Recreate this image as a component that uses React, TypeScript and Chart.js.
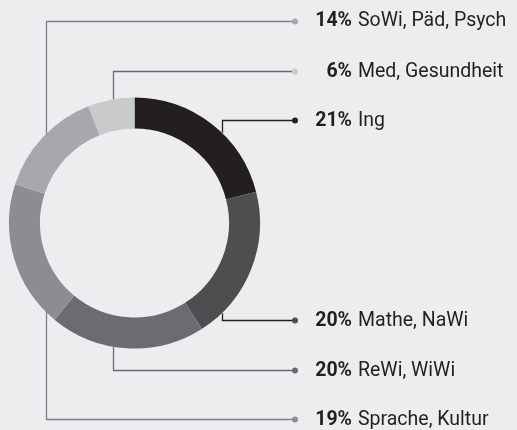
import React, { useEffect, useRef } from "react";
import { Chart, registerables } from "chart.js";

Chart.register(...registerables);

const categories = ["Ing", "Mathe, NaWi", "ReWi, WiWi", "Sprache, Kultur", "SoWi, Päd, Psych", "Med, Gesundheit"];
const shares = [21, 20, 20, 19, 14, 6];
const segmentColors = ["#231f20", "#4d4e50", "#6b6c70", "#8c8d90", "#a7a8ab", "#c9cacc"];
const leaderColors = ["#231f20", "#231f20", "#6b6c70", "#808184", "#808184", "#6b6c70"];

// layout of leader lines (annotation layout only)
const leaderAnchorX = [0.695, 0.695, -0.171, -0.709, -0.709, -0.171]; // fraction of outer radius from centre
const labelRowY = [120, 320, 370, 419, 20.5, 71];
const DOT_X = 295;
const PCT_RIGHT_X = 352;
const LABEL_X = 358;
const BG = "#ededef";
const TEXT = "#231f20";

const leaderPlugin = {
  id: "leaders",
  afterDraw(chart: any) {
    const ctx = chart.ctx;
    const meta = chart.getDatasetMeta(0);
    ctx.save();
    meta.data.forEach((arc: any, i: number) => {
      const { x: cx, y: cy, outerRadius: r } = arc.getProps(["x", "y", "outerRadius"], true);
      const dx = leaderAnchorX[i] * r;
      const ly = labelRowY[i];
      const h = Math.sqrt(Math.max(r * r - dx * dx, 0));
      const sy = ly < cy ? cy - h : cy + h;
      const lx = Math.round(cx + dx) + 0.5;
      const yy = Math.round(ly) + 0.5;
      ctx.strokeStyle = leaderColors[i];
      ctx.lineWidth = 1.3;
      ctx.beginPath();
      ctx.moveTo(lx, sy);
      ctx.lineTo(lx, yy);
      ctx.lineTo(DOT_X, yy);
      ctx.stroke();
      ctx.fillStyle = segmentColors[i];
      ctx.beginPath();
      ctx.arc(DOT_X, yy, 3, 0, Math.PI * 2);
      ctx.fill();
      ctx.fillStyle = TEXT;
      ctx.textBaseline = "middle";
      ctx.textAlign = "right";
      ctx.font = "bold 19.5px Roboto";
      ctx.fillText(shares[i] + "%", PCT_RIGHT_X, ly + 1);
      ctx.textAlign = "left";
      ctx.font = "19.5px Roboto";
      ctx.fillText(categories[i], LABEL_X, ly + 1);
    });
    ctx.restore();
  },
};

export default function App() {
  const ref = useRef<HTMLCanvasElement | null>(null);
  useEffect(() => {
    document.body.style.margin = "0";
    document.body.style.background = BG;
    if (!ref.current) return;
    const chart = new Chart(ref.current, {
      type: "doughnut",
      data: {
        labels: categories,
        datasets: [
          {
            data: shares,
            backgroundColor: segmentColors,
            borderWidth: 0,
          },
        ],
      },
      options: {
        responsive: false,
        animation: false,
        cutout: "75.3%",
        rotation: 0,
        layout: { padding: { left: 9, top: 97.5, right: 257, bottom: 81.5 } },
        plugins: {
          legend: { display: false },
          tooltip: { enabled: false },
        },
      },
      plugins: [leaderPlugin],
    });
    return () => chart.destroy();
  }, []);
  return (
    <div style={{ width: 517, height: 430, background: BG }}>
      <canvas ref={ref} width={517} height={430} style={{ display: "block" }} />
    </div>
  );
}
